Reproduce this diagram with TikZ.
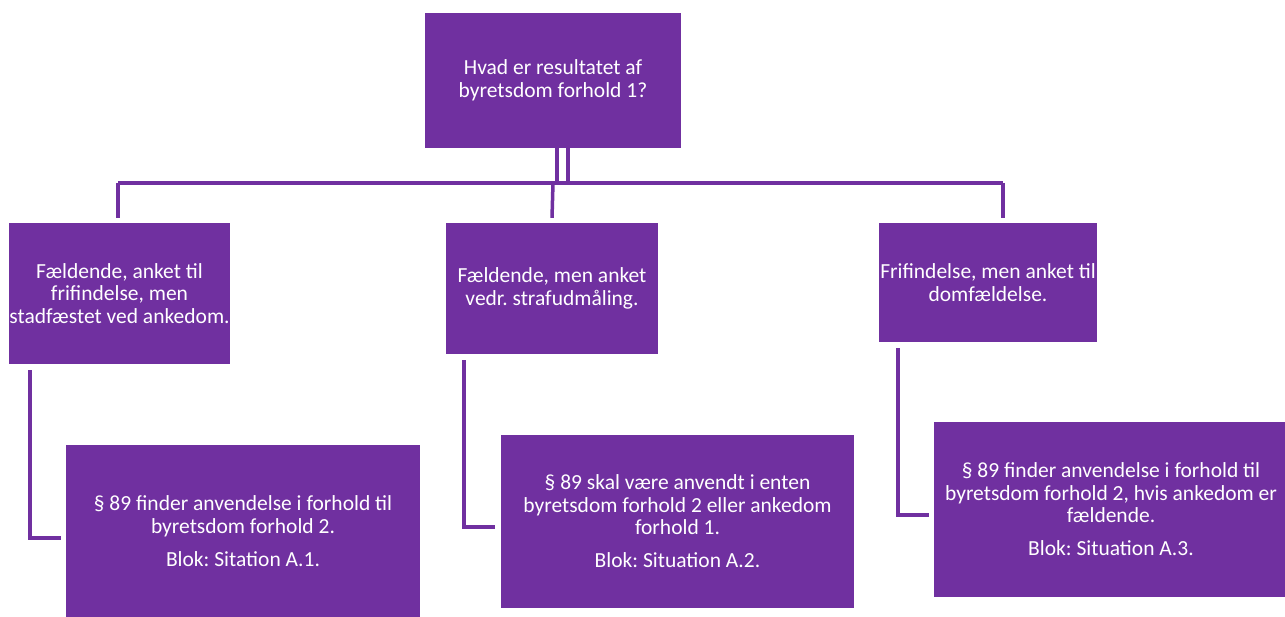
\documentclass[tikz,border=0pt]{standalone}
\usepackage{fontspec}
\setmainfont{Carlito}
\frenchspacing
\definecolor{boxpurple}{RGB}{112,48,160}
\usetikzlibrary{positioning}
\begin{document}
\begin{tikzpicture}[x=1pt, y=-1pt,
      box/.style={rectangle, fill=boxpurple, text=white, align=center, inner sep=0pt,
        font=\fontsize{21.5}{22.5}\selectfont},
      link/.style={draw=boxpurple, line width=3.5pt}]

      \useasboundingbox (0,0) rectangle (1285,617);

      \node[box, minimum width=256, minimum height=135] (top) at (553,80.5)
        {Hvad er resultatet af\\byretsdom forhold 1?};

      \node[box, minimum width=221, minimum height=141] (res1) at (119.5,293.5)
        {Fældende, anket til\\frifindelse, men\\stadfæstet ved ankedom.};
      \node[box, minimum width=212, minimum height=131] (res2) at (552,288.5)
        {Fældende, men anket\\vedr. strafudmåling.};
      \node[box, minimum width=218, minimum height=119] (res3) at (988,282.5)
        {Frifindelse, men anket til\\domfældelse.};

      \node[box, minimum width=354, minimum height=172] (blk1) at (243,531)
        {§ 89 finder anvendelse i forhold til\\byretsdom forhold 2.\\[10.5pt]Blok: Sitation A.1.};
      \node[box, minimum width=353, minimum height=173] (blk2) at (677.5,521.5)
        {§ 89 skal være anvendt i enten\\byretsdom forhold 2 eller ankedom\\forhold 1.\\[10.5pt]Blok: Situation A.2.};
      \node[box, minimum width=354, minimum height=175] (blk3) at (1111,509.5)
        {§ 89 finder anvendelse i forhold til\\byretsdom forhold 2, hvis ankedom er\\fældende.\\[10.5pt]Blok: Situation A.3.};

      \coordinate (barL) at (118,183);
      \coordinate (barR) at (1003,183);
      \draw[link] (barL) -- (barR);
      \foreach \dx in {4,15}
        \draw[link] ([xshift=\dx]top.south) -- ([xshift=\dx]top.south |- barL);
      \draw[link] (barL) -- ([yshift=5]res1.north -| barL);
      \draw[link] (top.south |- barL) -- ([yshift=5]res2.north);
      \draw[link] (barR) -- ([yshift=5]res3.north -| barR);

      \draw[link, shorten <=6, shorten >=5] ([xshift=21]res1.south west) |- ([yshift=-7]blk1.west);
      \draw[link, shorten <=6, shorten >=6] ([xshift=18]res2.south west) |- ([yshift=-5.5]blk2.west);
      \draw[link, shorten <=6, shorten >=5] ([xshift=19]res3.south west) |- ([yshift=-5.5]blk3.west);
    \end{tikzpicture}
\end{document}
